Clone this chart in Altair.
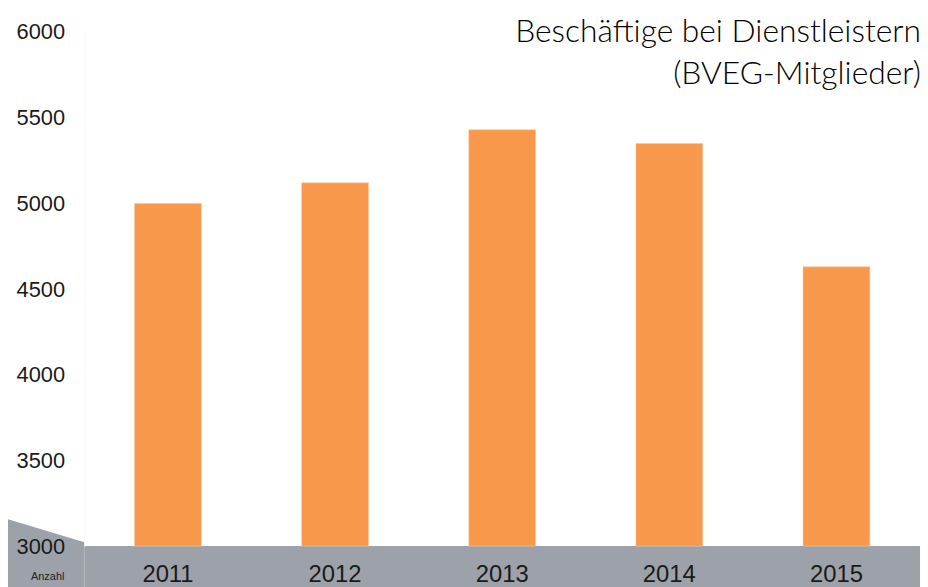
import altair as alt
import pandas as pd

years = ["2011", "2012", "2013", "2014", "2015"]
values = [5000, 5120, 5430, 5350, 4630]
y_ticks = [3000, 3500, 4000, 4500, 5000, 5500, 6000]
title_lines = ["Beschäftige bei Dienstleistern", "(BVEG-Mitglieder)"]
y_label = "Anzahl"

W, H = 842, 518
GRAY = "#9da1a9"
ORANGE = "#f7984a"

df = pd.DataFrame({"Jahr": years, "Anzahl": values})
one = pd.DataFrame({"a": [0]})

band = alt.Chart(one).mark_rect(color=GRAY, clip=False).encode(
    x=alt.value(0), x2=alt.value(W), y=alt.value(H), y2=alt.value(H + 45)
)

slant = alt.Chart(pd.DataFrame({"px": [-80, 0], "py": [490, 514], "py2": [H + 45, H + 45]})).mark_area(
    color=GRAY, clip=False
).encode(
    x=alt.X("px:Q", scale=None, axis=None),
    y=alt.Y("py:Q", scale=None, axis=None),
    y2="py2:Q",
)

bars = alt.Chart(df).mark_bar(color=ORANGE, stroke="#fbc9a0", strokeWidth=0.6).encode(
    x=alt.X(
        "Jahr:N",
        sort=years,
        scale=alt.Scale(paddingInner=0.6, paddingOuter=0.3),
        axis=alt.Axis(
            title=None, labelAngle=0, ticks=False, domain=False,
            labelFontSize=24, labelPadding=17, labelColor="#1a1a1a",
            labelFont="Liberation Sans", zindex=2,
        ),
    ),
    y=alt.Y(
        "Anzahl:Q",
        scale=alt.Scale(domain=[3000, 6000], nice=False, zero=False),
        axis=alt.Axis(
            values=y_ticks, format="d", grid=False, ticks=False, domainColor="#f7f7f7",
            labelFontSize=22, labelPadding=20, labelColor="#1a1a1a",
            labelFont="Liberation Sans", title=None, zindex=2,
        ),
    ),
    y2=alt.datum(3000),
)

t1 = alt.Chart(one).mark_text(
    text=title_lines[0], align="right", baseline="alphabetic",
    font="Lato", fontWeight=300, fontSize=32, color="#000000",
).encode(x=alt.value(843), y=alt.value(10))

t2 = alt.Chart(one).mark_text(
    text=title_lines[1], align="right", baseline="alphabetic",
    font="Lato", fontWeight=300, fontSize=32, color="#000000",
).encode(x=alt.value(843), y=alt.value(52))

anz = alt.Chart(one).mark_text(
    text=y_label, align="center", baseline="middle",
    font="Liberation Sans", fontSize=11, color="#222222",
).encode(x=alt.value(-37), y=alt.value(H + 31))

chart = alt.layer(slant, band, bars, t1, t2, anz).resolve_scale(
    x="independent", y="independent"
).properties(
    width=W, height=H,
    autosize=alt.AutoSizeParams(type="none"),
    padding={"left": 77, "top": 22, "right": 0, "bottom": 40},
).configure_view(stroke=None)

chart.save("out.html", embed_options={"renderer": "svg", "actions": False})
